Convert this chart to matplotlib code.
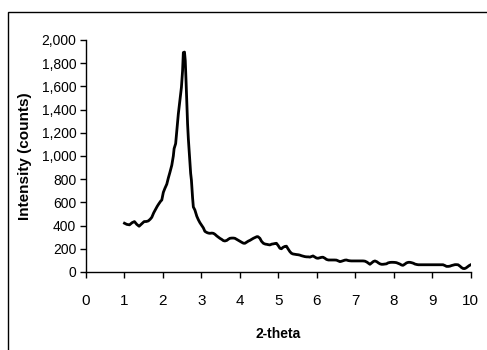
import numpy as np
import matplotlib
matplotlib.use("Agg")
import matplotlib.pyplot as plt
from matplotlib.patches import Rectangle
from matplotlib.ticker import FuncFormatter

plt.rcParams['font.family'] = ['Liberation Sans', 'DejaVu Sans']

# 2-theta scan values
two_theta = [1.00, 1.06, 1.13, 1.20, 1.26, 1.32, 1.38, 1.45, 1.51, 1.57, 1.62, 1.67, 1.71, 1.76,
             1.80, 1.85, 1.89, 1.94, 1.97, 2.01, 2.05, 2.10, 2.14, 2.18, 2.23, 2.27, 2.29, 2.33,
             2.37, 2.40, 2.44, 2.48, 2.51, 2.53, 2.56, 2.58, 2.60, 2.64, 2.66, 2.69, 2.72, 2.74,
             2.77, 2.79, 2.83, 2.88, 2.92, 2.96, 3.01, 3.05, 3.09, 3.14, 3.18, 3.22, 3.27, 3.31,
             3.35, 3.40, 3.44, 3.48, 3.53, 3.57, 3.61, 3.66, 3.70, 3.74, 3.79, 3.83, 3.87, 3.92,
             3.96, 4.00, 4.05, 4.09, 4.13, 4.18, 4.22, 4.26, 4.30, 4.35, 4.40, 4.44, 4.47, 4.52,
             4.56, 4.61, 4.66, 4.70, 4.74, 4.78, 4.83, 4.87, 4.91, 4.95, 5.00, 5.04, 5.08, 5.12,
             5.17, 5.21, 5.25, 5.30, 5.34, 5.38, 5.43, 5.47, 5.52, 5.56, 5.60, 5.65, 5.69, 5.74,
             5.78, 5.82, 5.86, 5.90, 5.95, 5.99, 6.03, 6.08, 6.12, 6.16, 6.21, 6.25, 6.30, 6.38,
             6.46, 6.51, 6.56, 6.60, 6.64, 6.69, 6.73, 6.77, 6.82, 6.86, 6.90, 7.00, 7.10, 7.20,
             7.25, 7.30, 7.34, 7.38, 7.43, 7.47, 7.51, 7.56, 7.60, 7.64, 7.68, 7.72, 7.77, 7.81,
             7.85, 7.90, 7.94, 7.98, 8.03, 8.07, 8.11, 8.16, 8.20, 8.24, 8.29, 8.33, 8.38, 8.42,
             8.46, 8.51, 8.55, 8.60, 8.64, 8.68, 8.80, 8.90, 9.00, 9.10, 9.20, 9.28, 9.33, 9.37,
             9.42, 9.46, 9.50, 9.55, 9.59, 9.63, 9.67, 9.72, 9.76, 9.80, 9.84, 9.88, 9.92, 9.96,
             10.00]
counts = [420, 410, 406, 425, 434, 410, 394, 415, 434, 435, 440, 455, 471, 510,
          534, 565, 586, 610, 620, 686, 720, 757, 810, 857, 920, 1000, 1063, 1106,
          1250, 1363, 1480, 1591, 1734, 1891, 1895, 1820, 1649, 1277, 1149, 1000, 850, 791,
          640, 560, 534, 480, 450, 425, 400, 380, 350, 340, 335, 333, 335, 333,
          325, 310, 300, 290, 280, 270, 267, 272, 282, 290, 292, 292, 290, 280,
          272, 265, 255, 248, 247, 258, 266, 272, 280, 290, 298, 304, 304, 290,
          265, 247, 240, 238, 235, 233, 240, 242, 245, 247, 225, 204, 200, 212,
          220, 222, 200, 175, 161, 155, 152, 150, 148, 145, 140, 135, 132, 130,
          130, 128, 133, 138, 128, 120, 118, 122, 126, 127, 118, 108, 103, 103,
          103, 102, 95, 89, 92, 98, 102, 103, 98, 96, 95, 95, 95, 95,
          93, 85, 75, 66, 80, 90, 95, 88, 78, 70, 66, 66, 68, 70,
          78, 82, 83, 83, 82, 80, 75, 68, 60, 57, 68, 78, 83, 83,
          80, 75, 68, 64, 62, 62, 62, 62, 62, 62, 62, 62, 55, 48,
          48, 50, 55, 60, 63, 63, 62, 50, 38, 30, 29, 35, 45, 55,
          62]

x_ticks = list(range(0, 11))
y_ticks = list(range(0, 2001, 200))

fig = plt.figure(figsize=(4.87, 3.5), dpi=100)
ax = fig.add_axes([0.1766, 0.223, 0.79, 0.663])

ax.plot(two_theta, counts, color='black', lw=2.0)

ax.set_xlim(0, 10)
ax.set_ylim(0, 2000)
ax.set_xticks(x_ticks)
ax.set_yticks(y_ticks)
ax.yaxis.set_major_formatter(FuncFormatter(lambda v, p: f"{int(v):,}"))

for s in ['top', 'right']:
    ax.spines[s].set_visible(False)
for s in ['left', 'bottom']:
    ax.spines[s].set_linewidth(1.0)

ax.tick_params(axis='x', direction='out', length=4, width=1, pad=12, labelsize=11)
ax.tick_params(axis='y', direction='out', length=4, width=1, pad=3, labelsize=10)

ax.set_xlabel('2-theta', fontsize=10, fontweight='bold')
ax.set_ylabel('Intensity (counts)', fontsize=11, fontweight='bold')
ax.xaxis.set_label_coords(0.5, -0.237)
ax.yaxis.set_label_coords(-0.14, 0.5)

# outer chart-area frame, cut off by the image edge on the right and bottom
fig.patches.append(Rectangle((8 / 487, -0.2), 1.2, 1.2 - 12 / 350 + 0.0,
                             transform=fig.transFigure, fill=False,
                             edgecolor='black', lw=1.0))

fig.savefig('out.png', dpi=100)
